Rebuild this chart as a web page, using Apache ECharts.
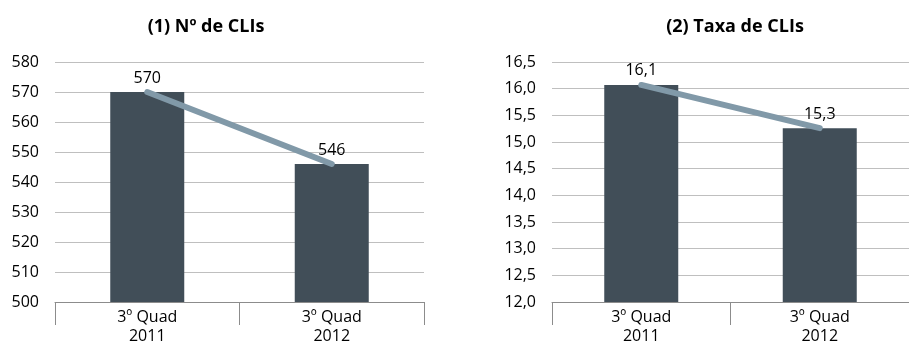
<!DOCTYPE html>
<html lang="pt">
<head>
  <meta charset="UTF-8">
  <title>CLIs</title>
  <script src='https://cdn.jsdelivr.net/npm/echarts@6/dist/echarts.min.js'></script>
  <style>
    html, body { margin: 0; padding: 0; background: #fff; }
    #main { width: 909px; height: 347px; }
  </style>
</head>
<body>
<div id="main"></div>
<script>
  // data
  const categories = ['3º Quad\n2011', '3º Quad\n2012'];
  const numCLIs = [570, 546];
  const taxaCLIs = [16.07, 15.26];
  const titles = ['(1) Nº de CLIs', '(2) Taxa de CLIs'];

  const barColor = '#414e58';
  const lineColor = '#8199a8';
  const gridColor = '#bfbfbf';
  const font = 'Open Sans';

  const comma = function (v) {
    return Number(v).toFixed(1).replace('.', ',');
  };
  const plain = function (v) { return String(v); };

  let chart = echarts.init(document.getElementById('main'));

  function xAxisFor(idx) {
    return {
      type: 'category',
      gridIndex: idx,
      data: categories,
      boundaryGap: true,
      axisLine: {lineStyle: {color: '#8c8c8c', width: 1}},
      axisTick: {show: true, length: 23, alignWithLabel: false, lineStyle: {color: '#8c8c8c'}},
      axisLabel: {color: '#000', fontFamily: font, fontSize: 16, lineHeight: 19, margin: 6},
      splitLine: {show: false}
    };
  }

  function yAxisFor(idx, min, max, interval, fmt) {
    return {
      type: 'value',
      gridIndex: idx,
      min: min,
      max: max,
      interval: interval,
      axisLine: {show: false},
      axisTick: {show: false},
      axisLabel: {color: '#000', fontFamily: font, fontSize: 16, margin: 16, formatter: fmt},
      splitLine: {lineStyle: {color: gridColor, width: 1}}
    };
  }

  // bars carry the value labels, placed above the line point
  function barSeries(idx, data, fmt) {
    return {
      type: 'bar',
      xAxisIndex: idx,
      yAxisIndex: idx,
      data: data,
      barWidth: 74,
      itemStyle: {color: barColor},
      label: {
        show: true,
        position: 'top',
        distance: 6,
        color: '#000',
        fontFamily: font,
        fontSize: 16,
        formatter: function (p) { return fmt(p.value); }
      },
      silent: true
    };
  }

  function lineSeries(idx, data) {
    return {
      type: 'line',
      xAxisIndex: idx,
      yAxisIndex: idx,
      data: data,
      symbol: 'none',
      lineStyle: {color: lineColor, width: 6, cap: 'round'},
      z: 5,
      silent: true
    };
  }

  let option = {
    animation: false,
    title: [
      {text: titles[0], left: 201, top: 13, textAlign: 'center',
        textStyle: {fontFamily: font, fontSize: 18, fontWeight: 'bold', color: '#000'}},
      {text: titles[1], left: 730, top: 13, textAlign: 'center',
        textStyle: {fontFamily: font, fontSize: 18, fontWeight: 'bold', color: '#000'}}
    ],
    grid: [
      {left: 55, top: 62, width: 369, height: 240},
      {left: 552, top: 62, width: 366, height: 240}
    ],
    xAxis: [xAxisFor(0), xAxisFor(1)],
    yAxis: [
      yAxisFor(0, 500, 580, 10, plain),
      yAxisFor(1, 12, 16.5, 0.5, comma)
    ],
    series: [
      barSeries(0, numCLIs, plain),
      lineSeries(0, numCLIs),
      barSeries(1, taxaCLIs, comma),
      lineSeries(1, taxaCLIs)
    ]
  };
  chart.setOption(option);
</script>
</body>
</html>
